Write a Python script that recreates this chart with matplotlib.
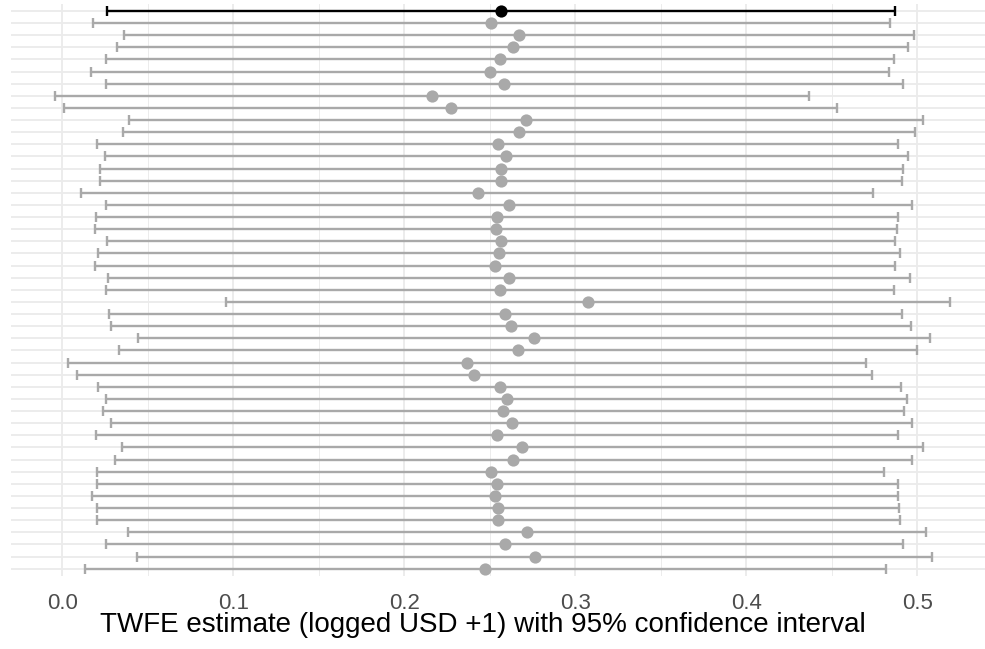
import matplotlib
matplotlib.use("Agg")
import matplotlib.pyplot as plt
from matplotlib.ticker import MultipleLocator, FixedLocator

# Point estimates and 95% CI bounds; the first row is the headline model
estimate = [
    0.2565, 0.2509, 0.2671, 0.2634, 0.2562, 0.2503, 0.2585, 0.2164, 0.2273, 0.2714,
    0.2671, 0.2548, 0.2597, 0.2567, 0.2564, 0.2429, 0.2611, 0.2542, 0.2538, 0.2565,
    0.2556, 0.2532, 0.2612, 0.2560, 0.3072, 0.2591, 0.2624, 0.2760, 0.2667, 0.2365,
    0.2409, 0.2560, 0.2599, 0.2579, 0.2628, 0.2540, 0.2688, 0.2638, 0.2505, 0.2544,
    0.2529, 0.2550, 0.2550, 0.2719, 0.2589, 0.2762, 0.2474,
]
ci_low = [
    0.0260, 0.0181, 0.0361, 0.0322, 0.0257, 0.0166, 0.0256, -0.0043, 0.0012, 0.0392,
    0.0357, 0.0205, 0.0248, 0.0220, 0.0219, 0.0111, 0.0254, 0.0195, 0.0191, 0.0263,
    0.0211, 0.0193, 0.0269, 0.0256, 0.0956, 0.0271, 0.0287, 0.0444, 0.0330, 0.0035,
    0.0088, 0.0211, 0.0257, 0.0240, 0.0285, 0.0199, 0.0349, 0.0306, 0.0205, 0.0201,
    0.0172, 0.0205, 0.0201, 0.0382, 0.0256, 0.0439, 0.0135,
]
ci_high = [
    0.4871, 0.4840, 0.4983, 0.4947, 0.4865, 0.4836, 0.4915, 0.4368, 0.4532, 0.5035,
    0.4988, 0.4889, 0.4944, 0.4918, 0.4911, 0.4743, 0.4967, 0.4889, 0.4883, 0.4871,
    0.4897, 0.4871, 0.4957, 0.4865, 0.5193, 0.4911, 0.4963, 0.5076, 0.5000, 0.4698,
    0.4737, 0.4903, 0.4938, 0.4921, 0.4971, 0.4885, 0.5032, 0.4971, 0.4807, 0.4889,
    0.4887, 0.4893, 0.4897, 0.5053, 0.4918, 0.5085, 0.4817,
]
highlight = [True] + [False] * (len(estimate) - 1)

xticks = [0.0, 0.1, 0.2, 0.3, 0.4, 0.5]
xtick_labels = ["0.0", "0.1", "0.2", "0.3", "0.4", "0.5"]
xlabel = "TWFE estimate (logged USD +1) with 95% confidence interval"

plt.rcParams['font.family'] = ['Liberation Sans', 'DejaVu Sans']

W, H = 985, 649
fig = plt.figure(figsize=(W / 100, H / 100), dpi=100)
left_px, right_px, top_px, bottom_px = 10.7, 985, 3.7, 576
ax = fig.add_axes([left_px / W, (H - bottom_px) / H,
                   (right_px - left_px) / W, (bottom_px - top_px) / H])

grey = '#A9A9A9'
n = len(estimate)
for i in range(n):
    c = 'black' if highlight[i] else grey
    ax.errorbar(estimate[i], i,
                xerr=[[estimate[i] - ci_low[i]], [ci_high[i] - estimate[i]]],
                fmt='none', ecolor=c, elinewidth=1.7, capsize=3.3,
                capthick=1.7, zorder=3)
    ax.plot(estimate[i], i, 'o', color=c, markersize=8.8,
            markeredgewidth=0, zorder=4)

ax.set_xlim(-0.0302, 0.5396)
ax.set_ylim(n - 1 + 0.6, -0.6)

ax.xaxis.set_major_locator(FixedLocator(xticks))
ax.set_xticklabels(xtick_labels)
ax.xaxis.set_minor_locator(MultipleLocator(0.05))
ax.set_yticks(range(n))
ax.set_yticklabels([])

ax.grid(which='major', axis='both', color='#EBEBEB', linewidth=1.3, zorder=0)
ax.grid(which='minor', axis='x', color='#EBEBEB', linewidth=0.65, zorder=0)
ax.set_axisbelow(True)

for s in ax.spines.values():
    s.set_visible(False)
ax.tick_params(axis='both', which='both', length=0)
ax.tick_params(axis='x', labelsize=16, labelcolor='#4D4D4D', pad=12)

fig.text(483 / W, (H - 632.3) / H, xlabel, ha='center', va='baseline',
         fontsize=20, color='black')

fig.savefig('out.png', dpi=100)
